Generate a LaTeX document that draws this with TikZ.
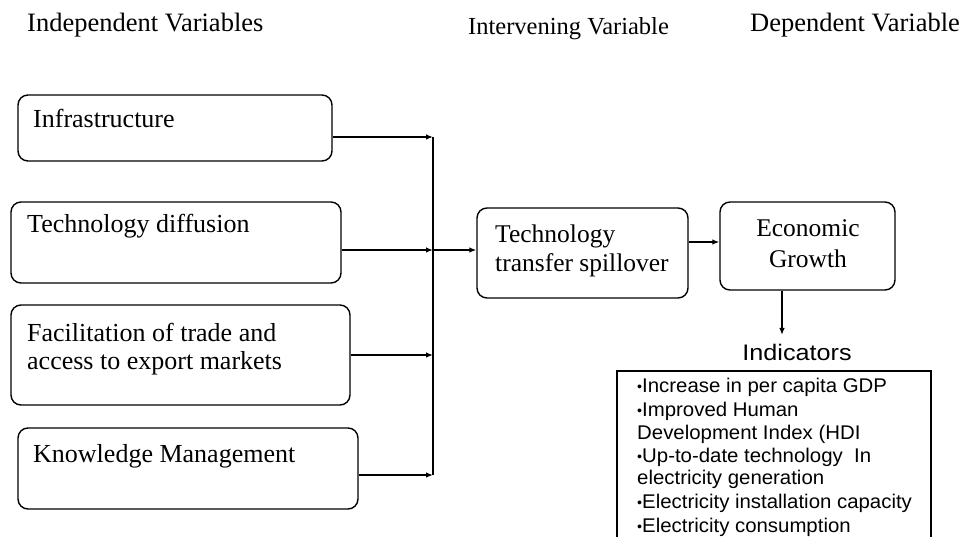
\documentclass[tikz,border=0pt]{standalone}
\usepackage{fontspec}
\setmainfont{Liberation Serif}
\newfontfamily\indfont{Liberation Sans}[FakeStretch=1.03]
\newfontfamily\indhfont{Liberation Sans}[FakeStretch=1.12]
\usetikzlibrary{arrows.meta}
\begin{document}
\begin{tikzpicture}[x=1pt,y=-1pt,
  rbox/.style={draw=black,line width=1.4pt,rounded corners=10pt,inner sep=0pt},
  sbox/.style={draw=black,line width=1.4pt,inner sep=0pt},
  lbl/.style={anchor=base west,inner sep=0pt,font=\fontsize{26}{29}\selectfont},
  clbl/.style={anchor=base,inner sep=0pt,font=\fontsize{25.5}{29}\selectfont},
  hdr/.style={anchor=base west,inner sep=0pt,font=\fontsize{26.5}{29}\selectfont},
  ind/.style={anchor=base west,inner sep=0pt,font=\indfont\fontsize{19.8}{23}\selectfont},
  arr/.style={line width=1.3pt,-{Latex[length=7pt,width=5.5pt]}},
  ln/.style={line width=1.3pt}]
\useasboundingbox (0,0) rectangle (962,537);
% headers
\node[hdr] (h1) at (27,32) {Independent Variables};
\node[hdr,font=\fontsize{24.5}{29}\selectfont] (h2) at (468,35) {Intervening Variable};
\node[hdr] (h3) at (750,32) {Dependent Variable};
% independent boxes
\node[rbox,minimum width=314pt,minimum height=66pt] (b1) at (175,128) {};
\node[lbl] (t1) at (33,128) {Infrastructure};
\node[rbox,minimum width=330pt,minimum height=81pt] (b2) at (176,242.5) {};
\node[lbl] (t2) at (27,233) {Technology diffusion};
\node[rbox,minimum width=339pt,minimum height=100pt] (b3) at (180.5,355) {};
\node[lbl] (t3a) at (27,342) {Facilitation of trade and};
\node[lbl] (t3b) at (27,370) {access to export markets};
\node[rbox,minimum width=340pt,minimum height=81pt] (b4) at (188,468.5) {};
\node[lbl] (t4) at (33,463) {Knowledge Management};
% intervening
\node[rbox,minimum width=211pt,minimum height=90pt] (tt) at (582.5,253) {};
\node[lbl,font=\fontsize{25.5}{29}\selectfont] (tta) at (495,243) {Technology};
\node[lbl,font=\fontsize{25.5}{29}\selectfont] (ttb) at (495,272) {transfer spillover};
% dependent
\node[rbox,minimum width=175pt,minimum height=88pt] (eg) at (807.5,246) {};
\node[clbl] (ega) at (808,237) {Economic};
\node[clbl] (egb) at (808,268) {Growth};
% indicators
\node[anchor=base,inner sep=0pt,font=\indhfont\fontsize{22.5}{26}\selectfont] (indt) at (797,361) {Indicators};
\draw[sbox] (617,560) -- (617,371) -- (931,371) -- (931,560);
\node[ind] (i1) at (637,393) {\raisebox{1pt}{\scalebox{0.7}{•}}Increase in per capita GDP};
\node[ind] (i2) at (637,417) {\raisebox{1pt}{\scalebox{0.7}{•}}Improved Human};
\node[ind] (i3) at (637,440) {Development Index (HDI};
\node[ind] (i4) at (637,463) {\raisebox{1pt}{\scalebox{0.7}{•}}Up-to-date technology\ \ In};
\node[ind] (i5) at (637,485) {electricity generation};
\node[ind] (i6) at (637,508) {\raisebox{1pt}{\scalebox{0.7}{•}}Electricity installation capacity};
\node[ind] (i7) at (637,532) {\raisebox{1pt}{\scalebox{0.7}{•}}Electricity consumption};
% connectors
\coordinate (j1) at (433,137);
\coordinate (j2) at (433,250);
\coordinate (j3) at (433,355);
\coordinate (j4) at (433,475);
\draw[ln] (j1) -- (j4);
\draw[arr] (b1.east |- j1) -- (j1);
\draw[arr] (b2.east |- j2) -- (j2);
\draw[arr] (b3.east |- j3) -- (j3);
\draw[arr] (b4.east |- j4) -- (j4);
\draw[arr] (j2) -- (tt.west |- j2);
\coordinate (k1) at (688,242);
\draw[arr] (tt.east |- k1) -- (eg.west |- k1);
\coordinate (dn) at (782,335);
\draw[arr] (eg.south -| dn) -- (dn);
\end{tikzpicture}
\end{document}
